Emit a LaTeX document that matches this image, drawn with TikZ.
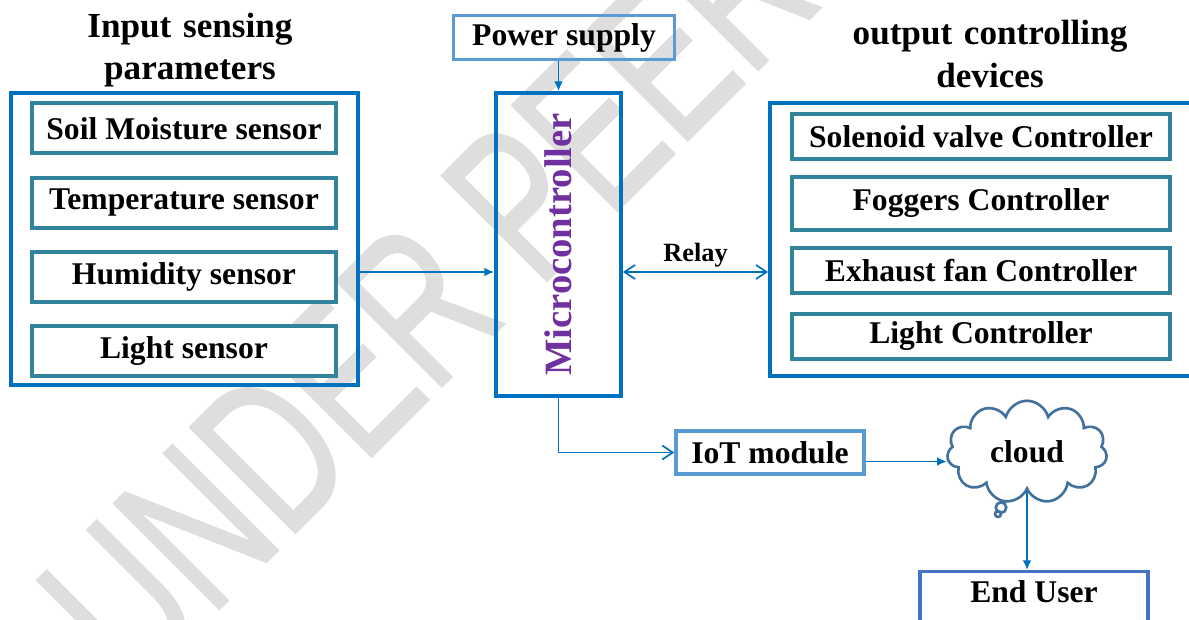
\documentclass[tikz,border=0pt]{standalone}
\usepackage{fontspec}
\setmainfont{Liberation Serif}
\newfontfamily\wmfont{Liberation Sans}[FakeBold=1.2]
\usetikzlibrary{arrows.meta}
\usetikzlibrary{shapes.symbols}
\usetikzlibrary{shapes.callouts}

\definecolor{mblue}{HTML}{0070C0}
\definecolor{tealbox}{HTML}{31849B}
\definecolor{lblue}{HTML}{5B9BD5}
\definecolor{ublue}{HTML}{4472C4}
\definecolor{cldblue}{HTML}{41719C}
\definecolor{mpurple}{HTML}{7030A0}
\definecolor{wmgray}{HTML}{DEDEDE}

\begin{document}
\begin{tikzpicture}[x=0.02cm, y=-0.02cm,
  font=\bfseries\fontsize{18}{21}\selectfont,
  frame/.style={draw=mblue, line width=2.2pt},
  item/.style={draw=tealbox, line width=2.2pt, fill=white},
  lbox/.style={draw=lblue, line width=1.9pt},
  flow/.style={draw=mblue, line width=1pt, -{Latex[length=5.5pt,width=5pt]}},
  barb/.style={draw=mblue, line width=1pt, ->, >={Straight Barb[length=6pt,width=8pt]}},
  twoway/.style={draw=mblue, line width=1pt, <->, >={Straight Barb[length=6pt,width=8pt]}}]

\useasboundingbox (0,0) rectangle (1189,619);
\clip (0,0) rectangle (1189,619);

% watermark
\node[wmgray, rotate=45, anchor=base west, inner sep=0, font=\wmfont\mdseries\fontsize{123}{123}\selectfont] (wm) at (134,694) {\scalebox{0.69}[1]{UNDER PEER REVIEW}};

% inputs
\node[align=center, font=\bfseries\fontsize{20}{24}\selectfont] (intitle) at (190,50) {Input\,\,sensing\\parameters};
\node[frame, minimum width=6.94cm, minimum height=5.84cm] (inbox) at (184.5,239) {};
\foreach \txt [count=\i] in {Soil Moisture sensor, Temperature sensor, Humidity sensor, Light sensor}
 \node[item, minimum width=6.08cm, minimum height=1cm] (in\i) at (184, 54+74.3*\i) {\txt};

% controller
\node[lbox, minimum width=4.42cm, minimum height=0.88cm] (pwr) at (564,37.5) {Power supply};
\node[frame, minimum width=2.5cm, minimum height=6.06cm] (mcu) at (558.5,244.5) {};
\node[mpurple, rotate=90, font=\bfseries\fontsize{22}{26}\selectfont] (mcutxt) at (mcu.center) {Microcontroller};

% outputs
\node[align=center, font=\bfseries\fontsize{20}{24}\selectfont] (outtitle) at (990,54) {output\,\,controlling\\devices};
\node[frame, minimum width=8.7cm, minimum height=5.46cm] (outbox) at (987.5,239.5) {};
\foreach \txt/\yy/\hh [count=\i] in {Solenoid valve Controller/136.5/0.9, Foggers Controller/203.5/1.06, Exhaust fan Controller/270.5/0.9, Light Controller/336.5/0.9}
 \node[item, minimum width=7.56cm, minimum height=\hh cm] (out\i) at (981,\yy) {\txt};

% iot side
\node[lbox, minimum width=3.76cm, minimum height=0.86cm] (iot) at (770,452.5) {IoT module};
\node[cloud callout, draw=cldblue, line width=1.5pt, cloud puffs=11, aspect=1.6, minimum width=3.2cm, minimum height=2.05cm, inner sep=0, callout absolute pointer={(998,514)}, callout pointer start size=0.34cm and 0.3cm, callout pointer end size=0.12cm and 0.12cm] (cld) at (1027,452) {cloud};
\node[draw=ublue, line width=1.9pt, minimum width=4.56cm, anchor=north, text height=0.5cm, text depth=0.7cm] (usr) at (1034,570) {End User};

% links
\draw[flow] (pwr.south -| mcu.north) -- (mcu.north);
\draw[flow] ([yshift=-0.66cm]inbox.east) -- ([yshift=-0.66cm]inbox.east -| mcu.west);
\draw[twoway] ([yshift=-0.55cm]mcu.east) -- ([yshift=-0.55cm]mcu.east -| outbox.west) node[midway, above, inner sep=2pt, font=\bfseries\fontsize{15}{18}\selectfont] (relay) {Relay};
\draw[barb] (mcu.south) |- (iot.west);
\draw[flow] ([yshift=-0.18cm]iot.east) -- ([yshift=-0.18cm]iot.east -| cld.west);
\draw[flow] (cld.south) -- (cld.south |- usr.north);

\end{tikzpicture}
\end{document}
